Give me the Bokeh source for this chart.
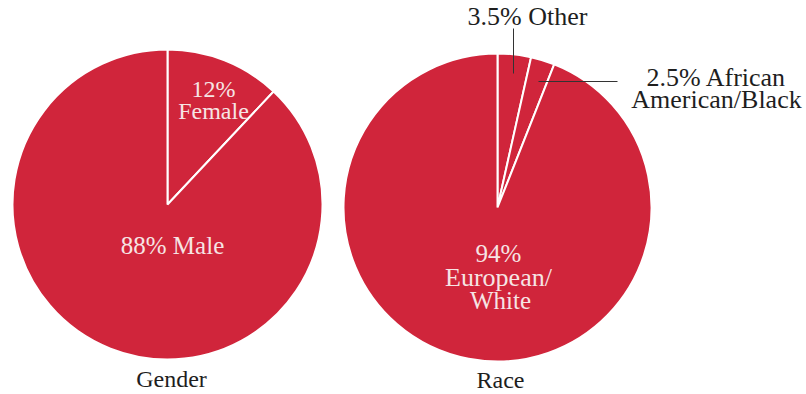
import math
from bokeh.plotting import figure
from bokeh.models import Range1d, ColumnDataSource, Label
from bokeh.embed import file_html
from bokeh.resources import INLINE

# ---- data ----
gender_labels = ["Female", "Male"]
gender_shares = [12, 88]
race_labels = ["Other", "African American/Black", "European/White"]
race_shares = [3.5, 2.5, 94]
titles = ["Gender", "Race"]

W, H = 806, 394
RED = "#D0253B"
LIGHT = "#F6E4E4"
DARK = "#1E1E1E"

p = figure(width=W, height=H, output_backend="svg", toolbar_location=None,
           x_range=Range1d(0, W), y_range=Range1d(0, H), min_border=0)
p.axis.visible = False
p.grid.visible = False
p.outline_line_color = None
p.background_fill_color = "white"
p.border_fill_color = "white"


def Y(ypx):
    return H - ypx


def pie(cx, cy, r, shares):
    total = float(sum(shares))
    starts, ends = [], []
    cum = 0.0
    for s in shares:
        a0 = math.pi / 2 - (cum + s) / total * 2 * math.pi
        a1 = math.pi / 2 - cum / total * 2 * math.pi
        starts.append(a0)
        ends.append(a1)
        cum += s
    src = ColumnDataSource(dict(x=[cx] * len(shares), y=[Y(cy)] * len(shares),
                                start=starts, end=ends))
    p.wedge(x="x", y="y", radius=r, start_angle="start", end_angle="end",
            source=src, fill_color=RED, line_color="white", line_width=2)


pie(167, 204, 155, gender_shares)
pie(497, 207, 154, race_shares)


def txt(x, y, s, color, size="24px"):
    p.add_layout(Label(x=x, y=Y(y), text=s, text_color=color,
                       text_font="Liberation Serif", text_font_size=size,
                       text_align="center", text_baseline="middle"))


def pct(v):
    return f"{v:g}%"

# gender labels
txt(213, 88, pct(gender_shares[0]), LIGHT)
txt(213, 110, gender_labels[0], LIGHT)
txt(172, 245, f"{pct(gender_shares[1])} {gender_labels[1]}", LIGHT, "25px")

# race labels
txt(498, 253, pct(race_shares[2]), LIGHT, "25px")
txt(498, 277, race_labels[2].split("/")[0] + "/", LIGHT, "26px")
txt(500, 300, race_labels[2].split("/")[1], LIGHT, "25px")

txt(527, 16, f"{pct(race_shares[0])} {race_labels[0]}", DARK, "26px")
txt(716, 77, f"{pct(race_shares[1])} " + race_labels[1].split(" ")[0], DARK, "26px")
txt(716, 99, race_labels[1].split(" ", 1)[1], DARK, "26px")

# leader lines
p.line(x=[513, 513], y=[Y(28), Y(73)], line_color="#333333", line_width=1)
p.line(x=[538, 617], y=[Y(81), Y(81)], line_color="#333333", line_width=1)

# titles
txt(171, 378, titles[0], DARK, "24px")
txt(500, 379, titles[1], DARK, "24px")

open("out.html", "w").write(file_html(p, INLINE))
